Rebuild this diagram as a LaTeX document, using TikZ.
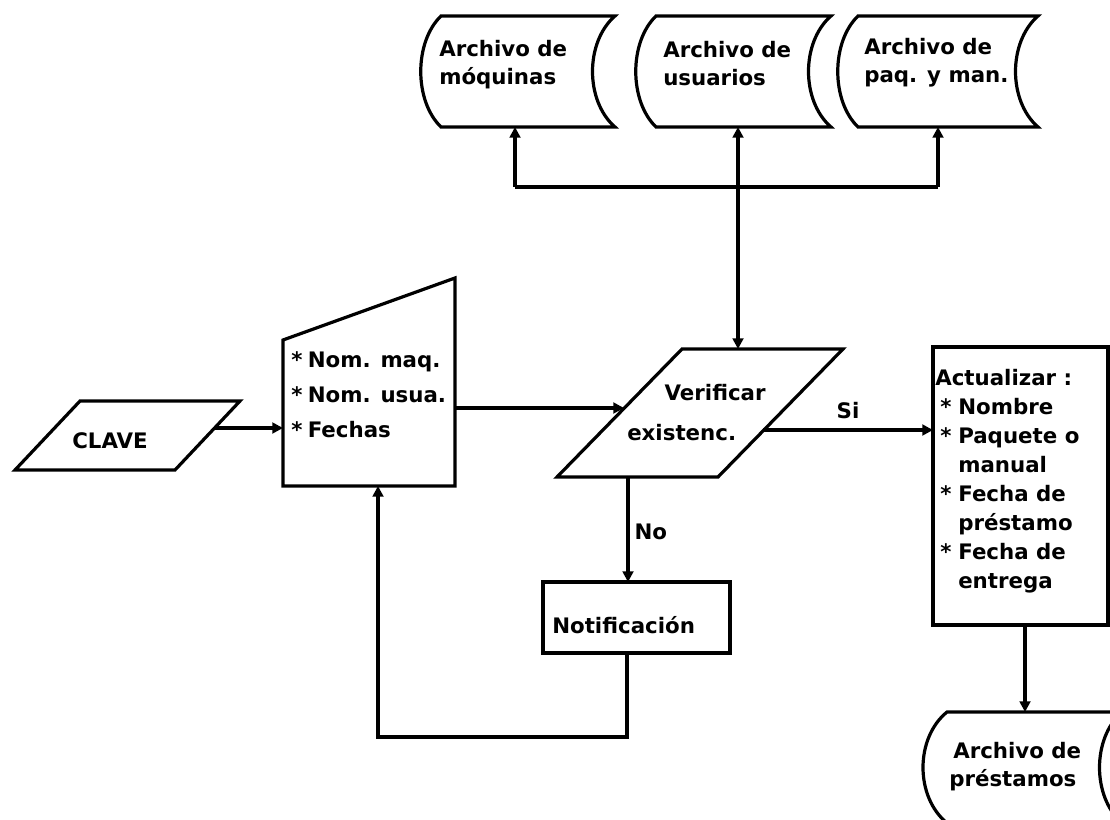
\documentclass[tikz,border=0pt]{standalone}
\usepackage{fontspec}
\setmainfont{DejaVu Sans}
\usetikzlibrary{arrows.meta}
% stored-data symbol: left x, right x, top y, bottom y, left bulge, right bulge
\newcommand\storeshape[6]{%
  \draw[outline] (#1,#3) -- (#2,#3)
    .. controls (#2-#6,#3+26) and (#2-#6,#4-26) .. (#2,#4)
    -- (#1,#4)
    .. controls (#1-#5,#4-26) and (#1-#5,#3+26) .. (#1,#3) -- cycle;}
\newcommand\itm{\makebox[17.25pt][l]{\hspace{3.75pt}*}}
\newcommand\cnt{\hspace*{17.25pt}}
\begin{document}
\begin{tikzpicture}[x=0.75pt,y=-0.75pt,
  outline/.style={line width=2.4pt, line join=miter},
  flow/.style={line width=2.4pt, -{Triangle[length=8pt,width=8pt]}},
  twoway/.style={line width=2.4pt, {Triangle[length=8pt,width=8pt]}-{Triangle[length=8pt,width=8pt]}},
  plain/.style={line width=2.4pt},
  lbl/.style={font=\bfseries\fontsize{16pt}{21pt}\selectfont, inner sep=0pt, anchor=west, align=left},
]
\useasboundingbox (0,0) rectangle (1110,820);
\clip (0,0) rectangle (1110,820);

% ---- files on top
\storeshape{441}{615}{16}{127}{27}{30}
\storeshape{656}{831}{16}{127}{27}{30}
\storeshape{858}{1038}{16}{127}{27}{30}
\node[lbl] (maq) at (439,65) {Archivo de\\móquinas};
\node[lbl] (usu) at (663,64) {Archivo de\\usuarios};
\node[lbl] (paq) at (864,63) {Archivo de\\paq. y man.};
\coordinate (maqB) at (515,127);
\coordinate (usuB) at (738,127);
\coordinate (paqB) at (938,127);
\coordinate (jl) at (515,187);
\coordinate (jr) at (938,187);

% ---- key input
\draw[outline] (80,401) -- (240,401) -- (175,470) -- (15,470) -- cycle;
\node[lbl] (clave) at (72,441) {CLAVE};
\coordinate (claveR) at (215,428);

% ---- manual input
\draw[outline] (283,340) -- (455,278) -- (455,486) -- (283,486) -- cycle;
\node[lbl, font=\bfseries\fontsize{16pt}{26.25pt}\selectfont] (datos) at (291,395)
  {*\hspace{4pt}Nom. maq.\\*\hspace{4pt}Nom. usua.\\*\hspace{4pt}Fechas};
\coordinate (datosL) at (283,428);
\coordinate (datosR) at (455,408);
\coordinate (datosB) at (378,486);

% ---- verification
\draw[outline] (682,349) -- (843,349) -- (718,477) -- (557,477) -- cycle;
\node[lbl, font=\bfseries\fontsize{16pt}{30pt}\selectfont] (ver) at (627,413)
  {\hspace*{28pt}Verificar\\existenc.};
\coordinate (verT) at (738,349);
\coordinate (verL) at (624,408);
\coordinate (verR) at (763,430);
\coordinate (verB) at (628,477);

% ---- notification
\draw[outline] (543,582) rectangle (730,653);
\node[lbl] (notif) at (552,625) {Notificación};
\coordinate (notifT) at (628,582);
\coordinate (notifB) at (627,653);
\coordinate (lp1) at (627,737);
\coordinate (lp2) at (378,737);

% ---- update
\draw[outline] (933,347) rectangle (1108,625);
\node[lbl, font=\bfseries\fontsize{16pt}{21.7pt}\selectfont] (act) at (935,481)
  {Actualizar :\\\itm Nombre\\\itm Paquete o\\\cnt manual\\\itm Fecha de\\\cnt préstamo\\\itm Fecha de\\\cnt entrega};
\coordinate (actL) at (933,430);
\coordinate (actB) at (1025,625);

% ---- loans file
\storeshape{947}{1122}{712}{823}{32}{30}
\node[lbl] (pres) at (949,767) {\hspace*{3pt}Archivo de\\préstamos};
\coordinate (presT) at (1025,712);

% ---- connectors
\draw[plain] (jl) -- (jr);
\draw[flow] (jl) -- (maqB);
\draw[flow] (jr) -- (paqB);
\draw[twoway] (usuB) -- (verT);
\draw[flow] (claveR) -- (datosL);
\draw[flow] (datosR) -- (verL);
\draw[flow] (verR) -- node[lbl, above=7.5pt] (si) {Si} (actL);
\draw[flow] (verB) -- node[lbl, anchor=west, xshift=3.75pt, yshift=-1.5pt] (no) {No} (notifT);
\draw[flow] (notifB) -- (lp1) -- (lp2) -- (datosB);
\draw[flow] (actB) -- (presT);
\end{tikzpicture}
\end{document}
